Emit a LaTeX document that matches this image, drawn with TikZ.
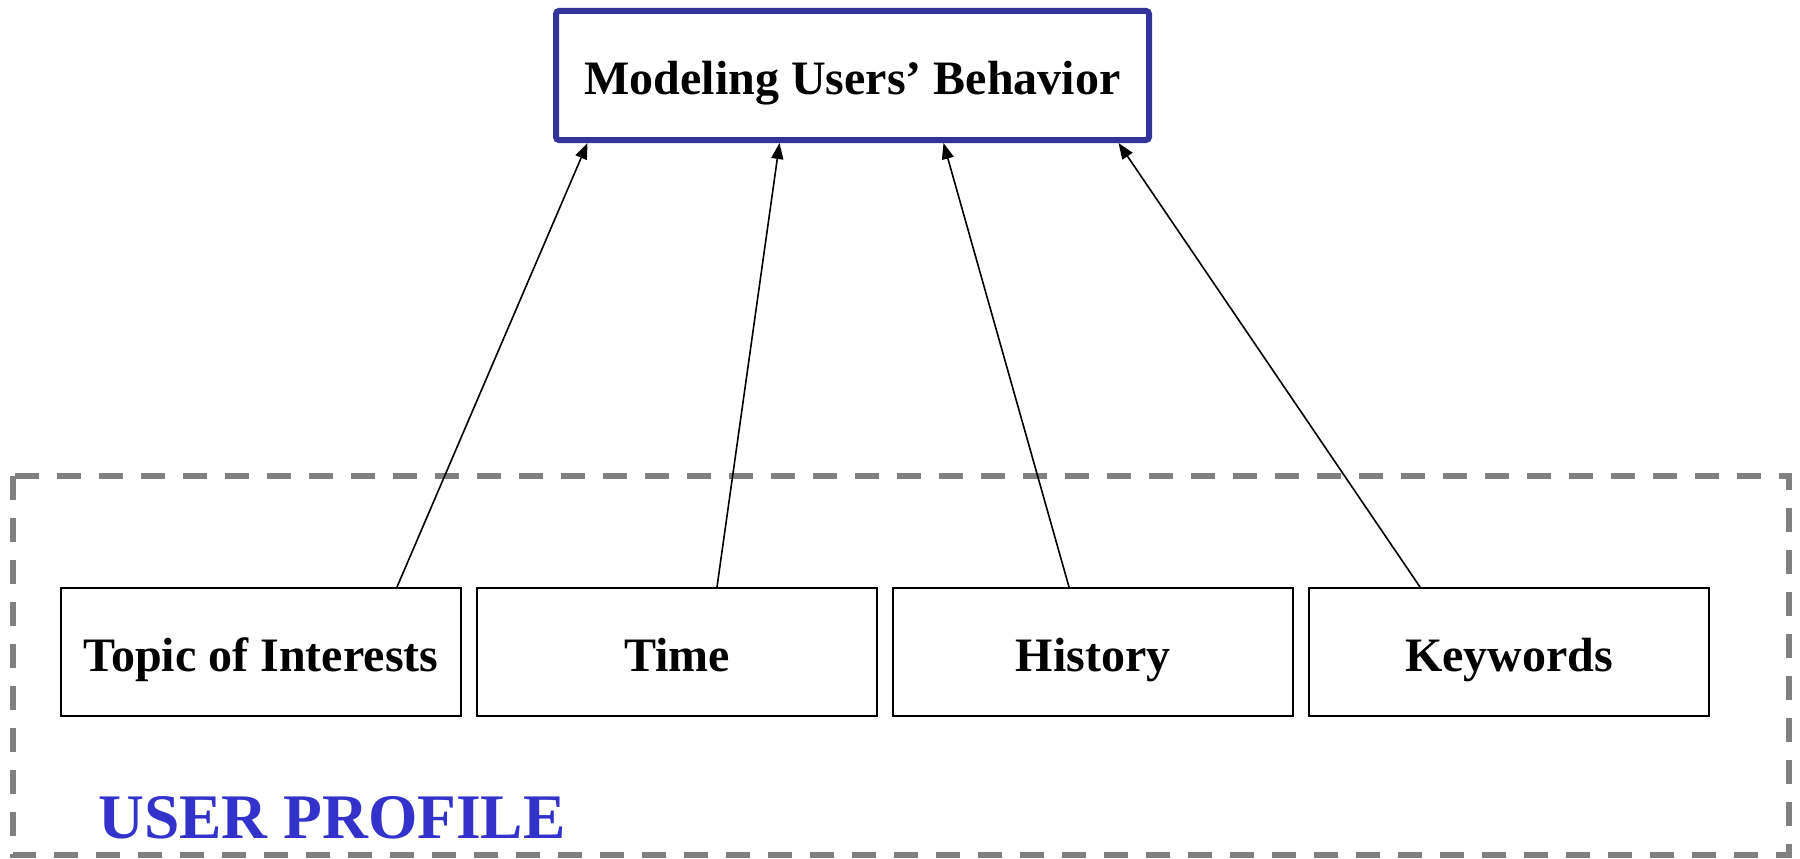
\documentclass[tikz,border=0pt]{standalone}
\usepackage{fontspec}
\setmainfont{Liberation Serif}
\usetikzlibrary{arrows.meta}
\definecolor{topblue}{HTML}{333399}
\definecolor{profblue}{HTML}{3333CC}
\definecolor{dashgray}{HTML}{808080}
\begin{document}
\begin{tikzpicture}[x=1pt,y=-1pt,
  itembox/.style={draw=black,line width=2pt,minimum width=400pt,minimum height=128pt,inner sep=0pt,
    text height=44pt,text depth=6pt,font=\fontsize{48}{56}\selectfont\bfseries},
  topbox/.style={draw=topblue,line width=6pt,rounded corners=3pt,minimum width=593pt,minimum height=129pt,inner sep=0pt,
    text height=44pt,text depth=6pt,font=\fontsize{48}{56}\selectfont\bfseries},
  feed/.style={line width=1.6pt,-{Triangle[length=16pt,width=12pt]}},
  frame/.style={draw=dashgray,line width=6pt,dash pattern=on 24pt off 18pt}]
\useasboundingbox (0,0) rectangle (1800,859);
\draw[frame] (13,476) rectangle (1789,855);
\node[topbox] (top) at (852.5,75.5) {Modeling Users’ Behavior};
\node[itembox] (b1) at (261,652) {Topic of Interests};
\node[itembox] (b2) at (677,652) {Time};
\node[itembox] (b3) at (1093,652) {History};
\node[itembox] (b4) at (1509,652) {Keywords};
\node[anchor=base west,inner sep=0pt,text=profblue,font=\fontsize{63.5}{70}\selectfont\bfseries] (prof) at (98,838) {USER PROFILE};
\draw[feed] ([xshift=136pt]b1.north) -- ([xshift=-265pt]top.south);
\draw[feed] ([xshift=40pt]b2.north) -- ([xshift=-73pt]top.south);
\draw[feed] ([xshift=-24pt]b3.north) -- ([xshift=91pt]top.south);
\draw[feed] ([xshift=-89pt]b4.north) -- ([xshift=266pt]top.south);
\end{tikzpicture}
\end{document}
